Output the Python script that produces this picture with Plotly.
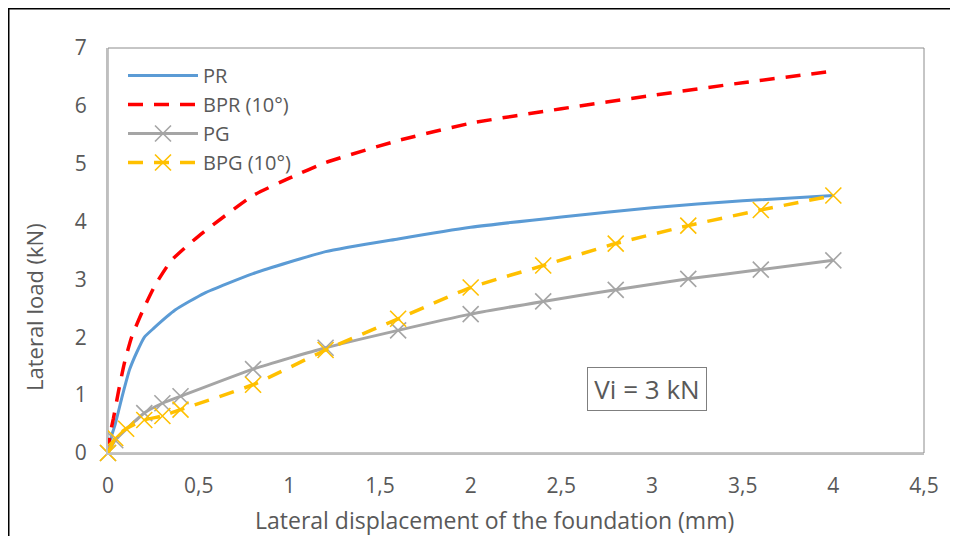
import plotly.graph_objects as go

# ---- data ----
pr_x = [0, 0.02, 0.04, 0.08, 0.12, 0.16, 0.2, 0.25, 0.37, 0.53, 0.8, 1.2, 1.6, 2.0, 2.5, 3.0, 3.5, 4.0]
pr_y = [0.1, 0.3, 0.5, 1.0, 1.45, 1.75, 2.0, 2.15, 2.47, 2.76, 3.1, 3.48, 3.7, 3.9, 4.08, 4.24, 4.36, 4.45]

bpr_x = [0, 0.01, 0.03, 0.06, 0.09, 0.13, 0.19, 0.26, 0.35, 0.5, 0.8, 1.0, 1.2, 1.6, 2.0, 2.5, 3.0, 3.5, 4.0]
bpr_y = [0, 0.3, 0.6, 1.1, 1.55, 2.0, 2.45, 2.9, 3.33, 3.75, 4.45, 4.75, 5.02, 5.4, 5.7, 5.95, 6.18, 6.4, 6.6]

pg_x = [0, 0.04, 0.2, 0.3, 0.4, 0.8, 1.2, 1.6, 2.0, 2.4, 2.8, 3.2, 3.6, 4.0]
pg_y = [0, 0.22, 0.69, 0.86, 0.98, 1.45, 1.82, 2.12, 2.4, 2.62, 2.82, 3.01, 3.17, 3.33]

bpg_x = [0, 0.04, 0.1, 0.2, 0.3, 0.4, 0.8, 1.2, 1.6, 2.0, 2.4, 2.8, 3.2, 3.6, 4.0]
bpg_y = [0, 0.26, 0.42, 0.57, 0.64, 0.75, 1.18, 1.78, 2.32, 2.86, 3.24, 3.62, 3.93, 4.2, 4.45]

names = ["PR", "BPR (10°)", "PG", "BPG (10°)"]
x_ticks = [0, 0.5, 1, 1.5, 2, 2.5, 3, 3.5, 4, 4.5]
y_ticks = [0, 1, 2, 3, 4, 5, 6, 7]

FONT = "Open Sans, Noto Sans, sans-serif"
TXT = "#595959"
DASH = "15px,11px"

fig = go.Figure()
fig.add_trace(go.Scatter(x=pr_x, y=pr_y, name=names[0], mode="lines", legendgroup="a",
                         line=dict(color="#5b9bd5", width=3, shape="spline", smoothing=0.5),
                         cliponaxis=False))
fig.add_trace(go.Scatter(x=bpr_x, y=bpr_y, name=names[1], mode="lines", legendgroup="b",
                         line=dict(color="#ff0000", width=3.5, dash=DASH, shape="spline", smoothing=0.5),
                         cliponaxis=False))
fig.add_trace(go.Scatter(x=pg_x, y=pg_y, name=names[2], mode="lines+markers", legendgroup="c",
                         line=dict(color="#a5a5a5", width=3, shape="spline", smoothing=0.5),
                         marker=dict(symbol="x-thin", size=16, line=dict(color="#a5a5a5", width=1.6)),
                         cliponaxis=False))
fig.add_trace(go.Scatter(x=bpg_x, y=bpg_y, name=names[3], mode="lines+markers", legendgroup="d",
                         line=dict(color="#ffc000", width=3.5, dash=DASH, shape="spline", smoothing=0.5),
                         marker=dict(symbol="x-thin", size=16, line=dict(color="#ffc000", width=1.6)),
                         cliponaxis=False))

# page has an 8px body margin, so the figure is 950x528 placed at (8,8)
W, H = 950, 528
L, R, T, B = 100, 34, 40, 83
pw, ph = W - L - R, H - T - B


def px(xf):
    return (xf - L) / pw


def py(yf):
    return (H - B - yf) / ph


fig.update_layout(
    width=W, height=H,
    margin=dict(l=L, r=R, t=T, b=B, autoexpand=False),
    paper_bgcolor="white", plot_bgcolor="white",
    separators=",.",
    font=dict(family=FONT, color=TXT, size=20),
    showlegend=True,
    legend=dict(x=px(115), y=py(48), xanchor="left", yanchor="top",
                bgcolor="rgba(0,0,0,0)", font=dict(size=20, color=TXT, family=FONT),
                itemwidth=70, traceorder="grouped", tracegroupgap=0),
    xaxis=dict(range=[0, 4.5], tickvals=x_ticks, showgrid=False, zeroline=False,
               showline=True, linecolor="#bfbfbf", linewidth=2, ticks="",
               ticklabelstandoff=13, tickfont=dict(size=21, color=TXT)),
    yaxis=dict(range=[0, 7], tickvals=y_ticks, showgrid=False, zeroline=False,
               showline=True, linecolor="#bfbfbf", linewidth=2, ticks="",
               ticklabelstandoff=15, tickfont=dict(size=21, color=TXT)),
)

# plot-area border and outer chart frame (top and left edges)
fig.add_shape(type="rect", xref="paper", yref="paper", x0=0, y0=0, x1=1, y1=1,
              line=dict(color="#8c8c8c", width=1), layer="below")
fig.add_shape(type="path", xref="paper", yref="paper",
              path=f"M {px(0.75)} -0.3 L {px(0.75)} {py(0.75)} L 1.2 {py(0.75)}",
              line=dict(color="black", width=1.5))

# axis titles
fig.add_annotation(x=px(486), y=py(512), xref="paper", yref="paper",
                   text="Lateral displacement of the foundation (mm)", showarrow=False,
                   xanchor="center", yanchor="middle", font=dict(size=23, color=TXT))
fig.add_annotation(x=px(26), y=py(299), xref="paper", yref="paper",
                   text="Lateral load (kN)", showarrow=False, textangle=-90,
                   xanchor="center", yanchor="middle", font=dict(size=22, color=TXT))

fig.add_annotation(x=px(639), y=py(381), xref="paper", yref="paper",
                   text="Vi = 3 kN", showarrow=False, font=dict(size=26, color=TXT),
                   xanchor="center", yanchor="middle",
                   width=110, height=34, borderpad=4,
                   bordercolor="#7f7f7f", borderwidth=1, bgcolor="white")

fig.write_html("out.html")
